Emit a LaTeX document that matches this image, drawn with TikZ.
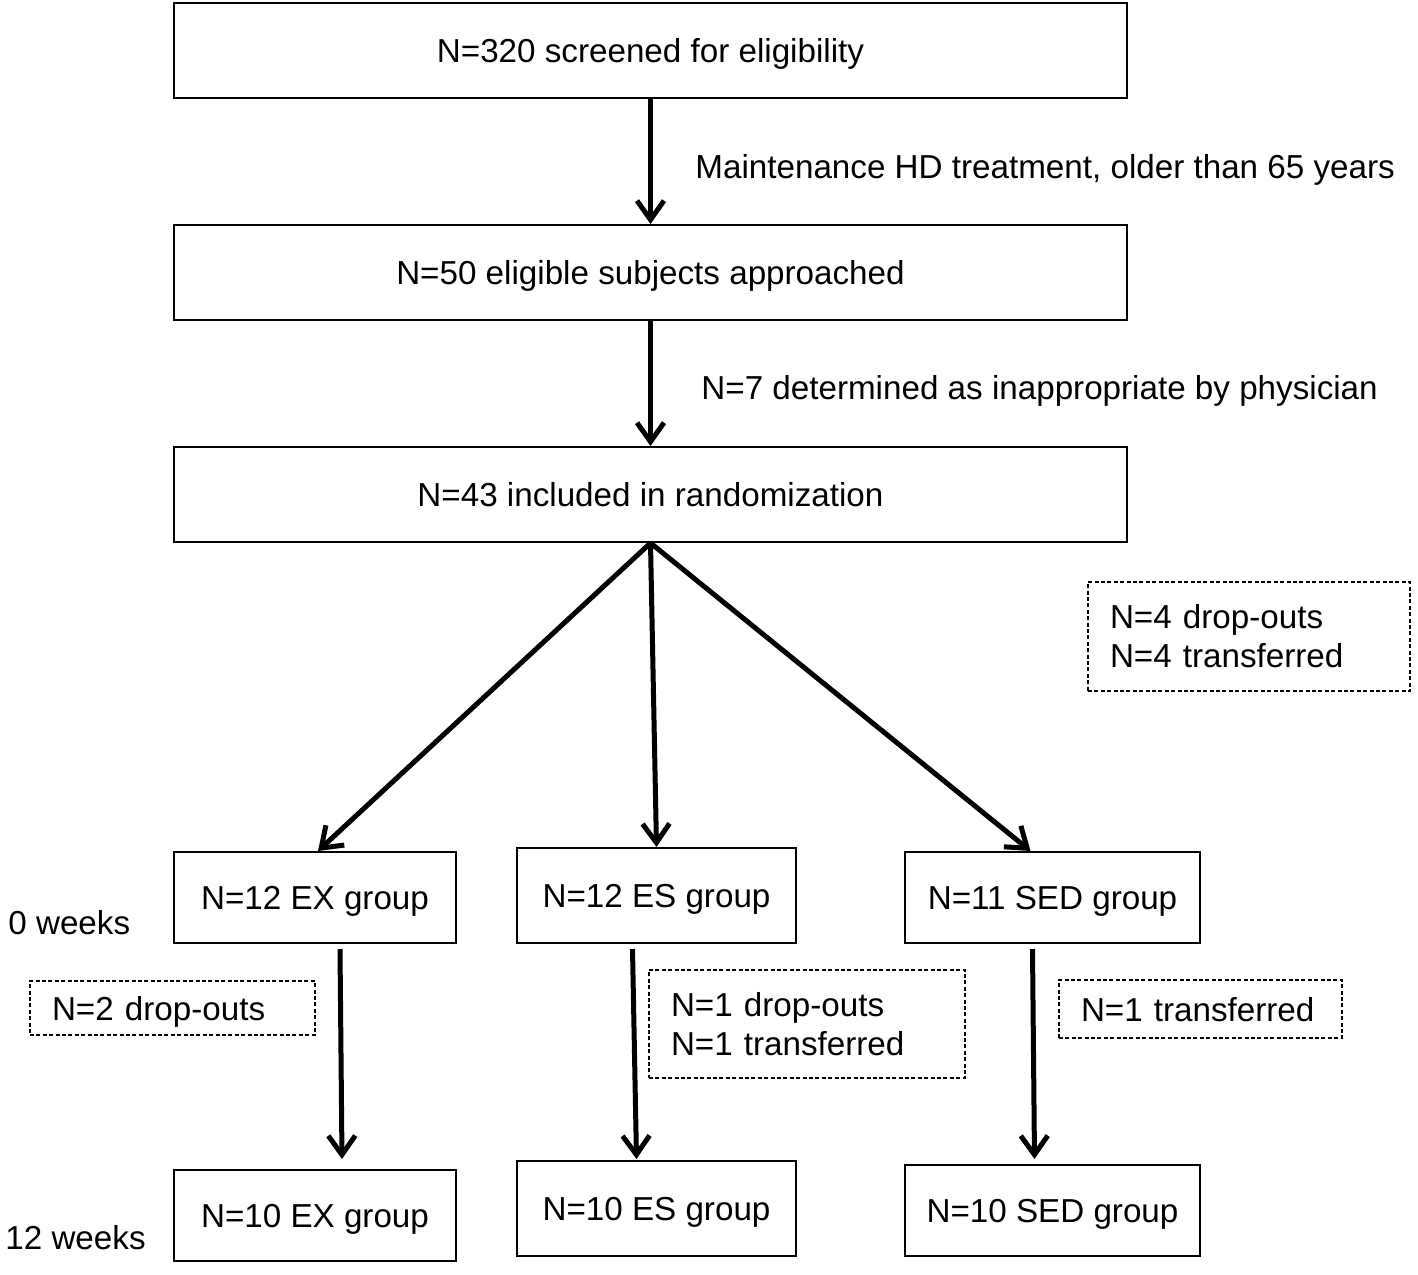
\documentclass[tikz,border=0pt]{standalone}
\usepackage{fontspec}
\setmainfont{Liberation Sans}
\usetikzlibrary{arrows.meta}
\begin{document}
\begin{tikzpicture}[x=0.5pt,y=-0.5pt,
  every node/.style={font=\fontsize{16.6}{19.5}\selectfont,text depth=0pt},
  box/.style={draw,line width=1pt,inner sep=0pt,minimum height=47.5pt},
  dbox/.style={draw,line width=0.7pt,dash pattern=on 2pt off 1.2pt,inner xsep=11pt,inner ysep=0pt,align=left},
  twoline/.style={text depth=},
  lbl/.style={anchor=west,inner sep=0pt},
  arr/.style={line width=2.5pt,-{Straight Barb[length=9.5pt,width=13.5pt]}}
]
\useasboundingbox (0,0) rectangle (1418,1274);
\node[box,minimum width=476.5pt] (b1) at (650.5,50.5) {N=320 screened for eligibility};
\node[box,minimum width=476.5pt] (b2) at (650.5,272.5) {N=50 eligible subjects approached};
\node[box,minimum width=476.5pt] (b3) at (650.5,494.5) {N=43 included in randomization};
\node[lbl] (l1) at (695,166) {Maintenance HD treatment, older than 65 years};
\node[lbl] (l2) at (701,387) {N=7 determined as inappropriate by physician};
\node[dbox,twoline,text width=139pt,minimum height=54.5pt] (d0) at (1249,636.5) {N=4 drop-outs\\N=4 transferred};

\node[box,minimum width=141pt,minimum height=45.5pt] (ex1) at (315,897.5) {N=12 EX group};
\node[box,minimum width=139.5pt,minimum height=47.5pt] (es1) at (656.5,895.5) {N=12 ES group};
\node[box,minimum width=147.5pt,minimum height=45.5pt] (sed1) at (1052.5,897.5) {N=11 SED group};
\node[lbl] (w0) at (8,922) {0 weeks};

\node[dbox,text width=120.5pt,minimum height=27pt] (d1) at (172.5,1008) {N=2 drop-outs};
\node[dbox,twoline,text width=136pt,minimum height=54pt] (d2) at (807,1024) {N=1 drop-outs\\N=1 transferred};
\node[dbox,text width=119.5pt,minimum height=29pt] (d3) at (1200.5,1009) {N=1 transferred};

\node[box,minimum width=141pt,minimum height=45.5pt] (ex2) at (315,1215.5) {N=10 EX group};
\node[box,minimum width=139.5pt,minimum height=47.5pt] (es2) at (656.5,1208.5) {N=10 ES group};
\node[box,minimum width=147.5pt,minimum height=45.5pt] (sed2) at (1052.5,1210.5) {N=10 SED group};
\node[lbl] (w12) at (5,1237) {12 weeks};

\draw[arr] (b1.south) -- (b2.north);
\draw[arr] (b2.south) -- (b3.north);
\draw[arr] (b3.south) -- ([xshift=1.5pt]ex1.north);
\draw[arr] (b3.south) -- (es1.north);
\draw[arr] (b3.south) -- ([xshift=-11pt]sed1.north);
\draw[arr] ([xshift=12.5pt,yshift=-2.5pt]ex1.south) -- ([xshift=13.5pt,yshift=5pt]ex2.north);
\draw[arr] ([xshift=-12pt,yshift=-2.5pt]es1.south) -- ([xshift=-10pt,yshift=0.5pt]es2.north);
\draw[arr] ([xshift=-10pt,yshift=-2.5pt]sed1.south) -- ([xshift=-9pt,yshift=2.5pt]sed2.north);
\end{tikzpicture}
\end{document}
